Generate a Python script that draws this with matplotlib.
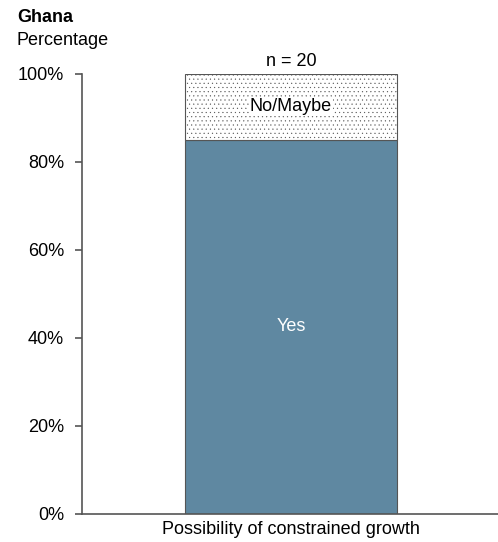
import matplotlib.pyplot as plt
import matplotlib as mpl

plt.rcParams['font.family'] = ['Liberation Sans', 'DejaVu Sans']
mpl.rcParams['hatch.color'] = '#666666'
mpl.rcParams['hatch.linewidth'] = 0.3

categories = ["Possibility of constrained growth"]
yes_share = [85]
no_maybe_share = [15]
sample_size = 20

FS = 13

fig = plt.figure(figsize=(4.98, 5.42), dpi=100)
ax = fig.add_axes([0.1647, 0.0517, 0.8353, 0.8118])

x = [0]
bar_w = 0.51
ax.bar(x, yes_share, width=bar_w, color='#5f88a1', edgecolor='#555555', linewidth=0.8)
ax.bar(x, no_maybe_share, width=bar_w, bottom=yes_share, color='white',
       edgecolor='#555555', linewidth=0.8, hatch='....')

# segment labels
ax.text(x[0], yes_share[0] / 2, "Yes", ha='center', va='center', color='white', fontsize=FS)
ax.text(x[0], yes_share[0] + no_maybe_share[0] / 2, "No/Maybe", ha='center', va='center',
        color='black', fontsize=FS,
        bbox=dict(facecolor='white', edgecolor='none', pad=0.5))
ax.text(x[0], yes_share[0] + no_maybe_share[0] + 0.8, f"n = {sample_size}",
        ha='center', va='bottom', fontsize=FS)

ax.set_xlim(-0.5024, 0.4976)
ax.set_ylim(0, 100)
ax.set_yticks(range(0, 101, 20))
ax.set_yticklabels([f"{v}%" for v in range(0, 101, 20)], fontsize=FS)
ax.set_xticks(x)
ax.set_xticklabels(categories, fontsize=FS)
ax.tick_params(axis='x', length=0, pad=5)
ax.tick_params(axis='y', length=5, width=1.2, color='#555555', pad=8)

for side in ['top', 'right']:
    ax.spines[side].set_visible(False)
for side in ['left', 'bottom']:
    ax.spines[side].set_color('#555555')
    ax.spines[side].set_linewidth(1.2)

fig.text(0.034, 0.968, "Ghana", fontsize=FS, fontweight='bold', va='center')
fig.text(0.034, 0.926, "Percentage", fontsize=FS, va='center')

fig.savefig("out.png", dpi=100)
